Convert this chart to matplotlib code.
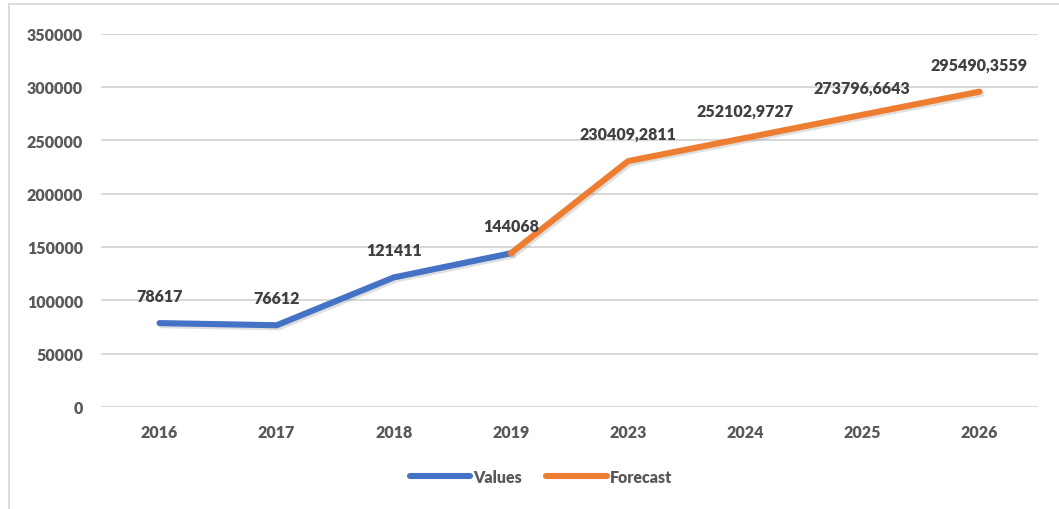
import matplotlib
matplotlib.use("Agg")
import matplotlib.pyplot as plt
import matplotlib.patheffects as pe
from matplotlib.lines import Line2D

categories = ["2016", "2017", "2018", "2019", "2023", "2024", "2025", "2026"]
values_cats = ["2016", "2017", "2018", "2019"]
values = [78617, 76612, 121411, 144068]
forecast_cats = ["2019", "2023", "2024", "2025", "2026"]
forecast = [144068, 230409.2811, 252102.9727, 273796.6643, 295490.3559]
values_labels = ["78617", "76612", "121411", "144068"]
forecast_labels = ["", "230409,2811", "252102,9727", "273796,6643", "295490,3559"]
yticks = [0, 50000, 100000, 150000, 200000, 250000, 300000, 350000]

plt.rcParams['font.family'] = ['Lato', 'DejaVu Sans']
W = "heavy"

fig = plt.figure(figsize=(10.59, 5.10), dpi=100)
ax = fig.add_axes([101/1059, 1-408/510, (1038-101)/1059, (408-34.5)/510])

pos = {c: i for i, c in enumerate(categories)}
blue = "#4472C4"
orange = "#ED7D31"
shadow = [pe.SimpleLineShadow(offset=(1.5, -1.5), alpha=0.25, shadow_color="gray"), pe.Normal()]

xv = [pos[c] for c in values_cats]
xf = [pos[c] for c in forecast_cats]
ax.plot(xv, values, color=blue, lw=4.4, solid_capstyle="round", solid_joinstyle="round",
        path_effects=shadow, zorder=3, label="Values")
ax.plot(xf, forecast, color=orange, lw=4.4, solid_capstyle="round", solid_joinstyle="round",
        path_effects=shadow, zorder=4, label="Forecast")

for x, y, t in zip(xv, values, values_labels):
    ax.annotate(t, (x, y), xytext=(0, 14), textcoords="offset points", ha="center", va="bottom",
                fontsize=11.5, fontweight=W, color="#404040", zorder=5)
for x, y, t in zip(xf, forecast, forecast_labels):
    if t:
        ax.annotate(t, (x, y), xytext=(0, 14), textcoords="offset points", ha="center", va="bottom",
                    fontsize=11.5, fontweight=W, color="#404040", zorder=5)

ax.set_xlim(-0.5, len(categories) - 0.5)
ax.set_ylim(0, 350000)
ax.set_yticks(yticks)
ax.set_yticklabels([str(v) for v in yticks])
ax.set_xticks(range(len(categories)))
ax.set_xticklabels(categories)
ax.grid(axis="y", color="#D9D9D9", lw=1.5)
ax.set_axisbelow(True)
for s in ax.spines.values():
    s.set_visible(False)
ax.tick_params(axis="both", length=0, labelsize=11.5, labelcolor="#595959")
ax.tick_params(axis="y", pad=13)
ax.tick_params(axis="x", pad=12)
for lab in ax.get_xticklabels() + ax.get_yticklabels():
    lab.set_fontweight(W)

leg = fig.legend(handles=[Line2D([], [], color=blue, lw=4.4, solid_capstyle="round"),
                          Line2D([], [], color=orange, lw=4.4, solid_capstyle="round")],
                 labels=["Values", "Forecast"], loc="center", bbox_to_anchor=(541/1059, 1-478/510),
                 ncol=2, frameon=False, fontsize=11.5, handlelength=3.8, handletextpad=0.2,
                 columnspacing=1.5)
for t in leg.get_texts():
    t.set_color("#595959")
    t.set_fontweight(W)

fig.add_artist(Line2D([9/1059, 9/1059], [0, 1-5/510], color="#D9D9D9", lw=1.3, transform=fig.transFigure))
fig.add_artist(Line2D([9/1059, 1], [1-5/510, 1-5/510], color="#D9D9D9", lw=1.3, transform=fig.transFigure))

fig.savefig("out.png", dpi=100)
